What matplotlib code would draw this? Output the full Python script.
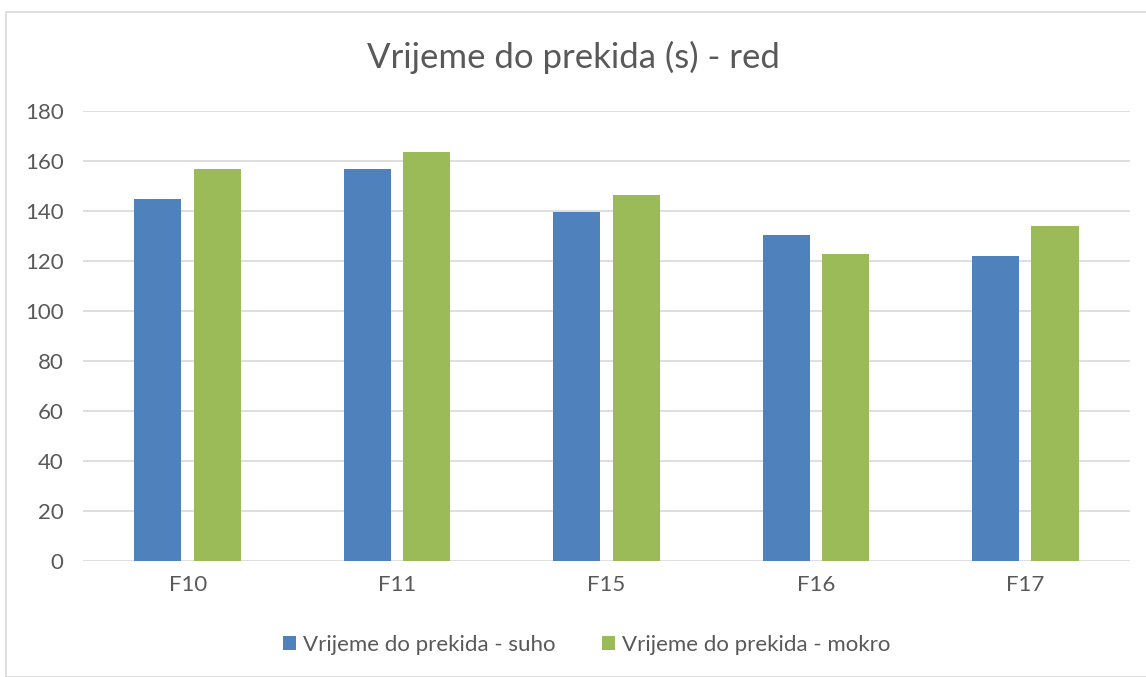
import numpy as np
import matplotlib.pyplot as plt
from matplotlib.patches import Rectangle

# podaci
kategorije = ['F10', 'F11', 'F15', 'F16', 'F17']
suho = [145, 157, 139.5, 130.5, 122]
mokro = [157, 163.5, 146.5, 123, 134]
y_ticks = list(range(0, 181, 20))

plt.rcParams['font.family'] = ['Lato', 'DejaVu Sans']
siva = '#595959'

fig = plt.figure(figsize=(11.46, 6.77), dpi=100)
ax = fig.add_axes([0.0724, 0.1713, 0.9136, 0.6647])

# okvir oko grafikona
fig.patches.append(Rectangle((6 / 1146, 0), 1.1, 1 - 12 / 677, transform=fig.transFigure,
                             fill=False, edgecolor='#D9D9D9', lw=1.2))

x = np.arange(len(kategorije))
w = 0.225
ax.bar(x - 0.142, suho, w, color='#4F81BD', label='Vrijeme do prekida - suho', zorder=3)
ax.bar(x + 0.142, mokro, w, color='#9BBB59', label='Vrijeme do prekida - mokro', zorder=3)

ax.set_xlim(-0.5, len(kategorije) - 0.5)
ax.set_ylim(0, 180)
ax.set_yticks(y_ticks)
ax.set_xticks(x)
ax.set_xticklabels(kategorije)
ax.grid(axis='y', color='#D9D9D9', lw=1.2, zorder=0)
for s in ax.spines.values():
    s.set_visible(False)
ax.tick_params(length=0, colors=siva, labelsize=16)
ax.tick_params(axis='y', pad=14)
ax.tick_params(axis='x', pad=10)

fig.text(0.5, 1 - 57 / 677, 'Vrijeme do prekida (s) - red', ha='center', va='center',
         fontsize=25, color=siva)

ax.legend(loc='center', bbox_to_anchor=(0.481, (1 - 645 / 677 - 0.1713) / 0.6647),
          ncol=2, frameon=False, fontsize=16, labelcolor=siva,
          handlelength=0.6, handleheight=0.6, handletextpad=0.3, columnspacing=2.1)

fig.savefig('out.png', dpi=100)
